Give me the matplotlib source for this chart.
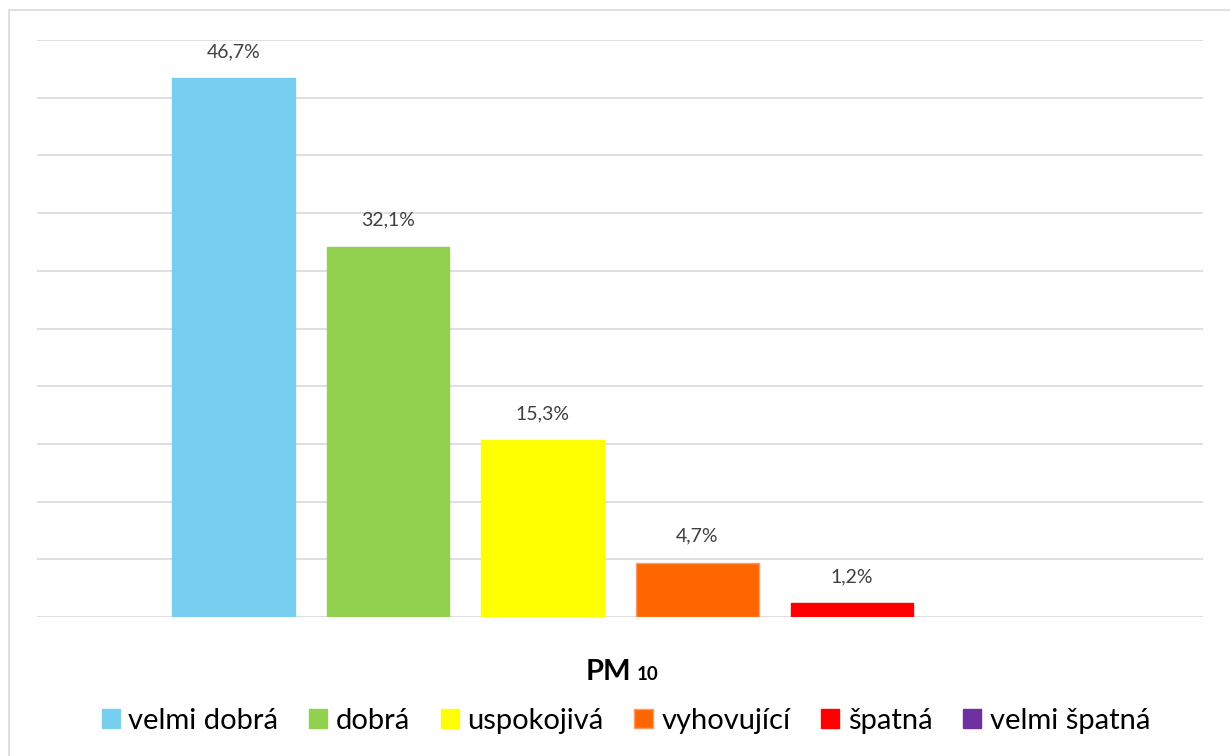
import matplotlib
matplotlib.use("Agg")
import matplotlib.pyplot as plt
from matplotlib.patches import Rectangle, Patch
import numpy as np

plt.rcParams['font.family'] = ['Lato', 'DejaVu Sans']

categories = ["velmi dobrá", "dobrá", "uspokojivá", "vyhovující", "špatná", "velmi špatná"]
values = [46.7, 32.1, 15.3, 4.7, 1.2, 0.0]
labels = ["46,7%", "32,1%", "15,3%", "4,7%", "1,2%", ""]
colors = ["#78CEF0", "#92D050", "#FFFF00", "#FF6600", "#FF0000", "#7030A0"]
edges = ["#78CEF0", "#92D050", "#FFFF00", "#FF9A66", "#FF0000", "#7030A0"]
group_title = "PM"
group_sub = "10"

W, H = 1230, 756
fig = plt.figure(figsize=(W / 100, H / 100), dpi=100)
fig.patch.set_facecolor("white")

# outer chart frame
fig.add_artist(Rectangle((9 / W, -0.1), 1.2, 1 - 10 / H + 0.1,
                         transform=fig.transFigure, fill=False,
                         edgecolor="#D9D9D9", linewidth=1.2))

ax = fig.add_axes([37 / W, 1 - 617 / H, (1203 - 37) / W, (617 - 40) / H])
x = np.arange(len(categories))
widths = [1.0 if v > 0 else 0.0 for v in values]
bars = ax.bar(x, values, width=123 / 155, color=colors, edgecolor=edges,
              linewidth=widths, zorder=3)
ax.set_xlim(-0.5 - 119 / 155, len(categories) - 0.5 + 119 / 155)
ax.set_ylim(0, 50)
ax.set_yticks(np.arange(0, 51, 5))
ax.yaxis.grid(True, color="#D9D9D9", linewidth=1.2, zorder=0)
ax.set_axisbelow(True)
ax.tick_params(left=False, bottom=False, labelleft=False, labelbottom=False)
for s in ax.spines.values():
    s.set_visible(False)

for b, lab in zip(bars, labels):
    if lab:
        ax.annotate(lab, (b.get_x() + b.get_width() / 2, b.get_height()),
                    xytext=(0, 13), textcoords="offset points",
                    ha="center", va="bottom", fontsize=14, color="#404040")

# category title: "PM" with smaller "10"
fig.text(631 / W, 1 - 680 / H, group_title, ha="right", va="baseline",
         fontsize=21, fontweight="bold", color="black")
fig.text(637 / W, 1 - 680 / H, group_sub, ha="left", va="baseline",
         fontsize=13.5, fontweight="bold", color="black")

handles = [Patch(facecolor=c, edgecolor=e, linewidth=1.0) for c, e in zip(colors, edges)]
fig.legend(handles, categories, loc="center", bbox_to_anchor=(626 / W, 1 - 721 / H),
           ncol=6, frameon=False, fontsize=21, handlelength=0.62, handleheight=0.62,
           handletextpad=0.3, columnspacing=1.05, borderaxespad=0)

fig.savefig("out.png", dpi=100, facecolor="white")
